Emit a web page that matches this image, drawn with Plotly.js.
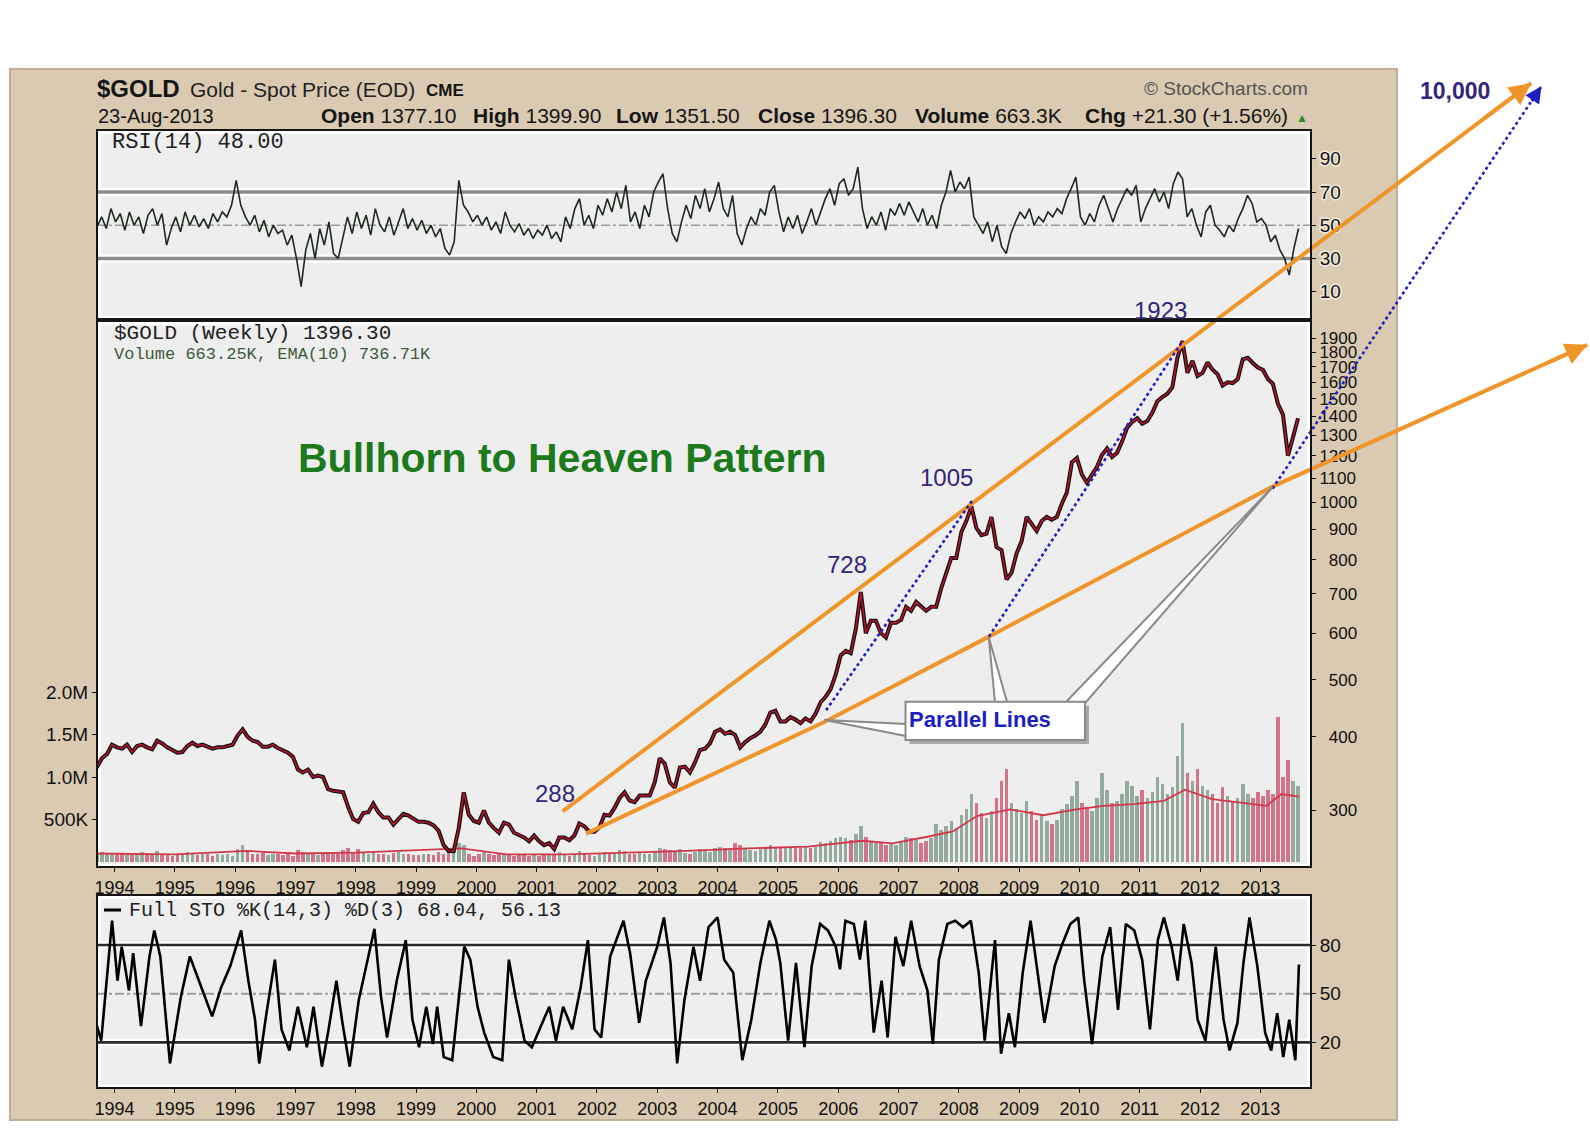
<!DOCTYPE html>
<html><head><meta charset="utf-8">
<script src="https://cdn.plot.ly/plotly-3.0.1.min.js"></script>
<style>
html,body{margin:0;padding:0;background:#fff;}
#chart{width:1590px;height:1128px;}
.xtick text,.ytick text{stroke:#f1eadc;stroke-width:3px;paint-order:stroke;stroke-linejoin:round;}
</style></head><body><div id="chart"></div><script>
// ================= DATA =================
const YEARS = [1994,1995,1996,1997,1998,1999,2000,2001,2002,2003,2004,2005,2006,2007,2008,2009,2010,2011,2012,2013];
const PRICE_START = 1993 + 8.5/12;   // first monthly point: Sep 1993
const PRICE = [
355,368,374,388,
384,382,388,377,386,388,384,381,394,390,384,380,
376,377,386,391,386,388,385,382,384,384,386,388,
402,412,400,394,392,385,385,388,383,380,376,370,
352,348,352,342,344,342,326,324,323,322,304,290,
287,297,298,308,298,292,292,284,290,296,294,290,
287,287,286,283,277,262,256,256,280,322,295,288,
286,300,286,280,275,286,284,275,273,270,266,272,
266,262,264,258,270,270,267,272,285,282,276,276,
281,295,294,303,315,322,312,310,318,318,318,335,
368,360,335,328,355,356,348,362,380,382,390,408,
412,405,408,403,384,392,398,402,408,420,440,443,
425,425,432,428,422,430,425,438,458,468,482,510,
550,560,555,610,705,600,630,630,600,590,625,625,
632,665,655,678,665,655,665,665,715,755,805,805,
890,930,985,905,880,885,945,840,830,740,760,820,
860,945,920,895,930,945,935,945,995,1040,1170,1190,
1115,1080,1115,1150,1205,1235,1195,1215,1270,1340,1370,1390,
1360,1375,1420,1485,1510,1530,1570,1760,1880,1660,1740,1640,
1660,1730,1680,1650,1580,1600,1595,1620,1750,1760,1725,1695,
1680,1620,1590,1470,1410,1200,1290,1390];
const VOLUME = [ // millions
0.10,0.12,0.09,0.11,
0.09,0.10,0.11,0.08,0.10,0.12,0.09,0.08,0.13,0.10,0.09,0.07,
0.08,0.10,0.12,0.09,0.08,0.10,0.09,0.07,0.09,0.08,0.10,0.07,
0.15,0.20,0.12,0.10,0.09,0.11,0.08,0.09,0.10,0.08,0.09,0.07,
0.14,0.12,0.10,0.09,0.08,0.10,0.12,0.09,0.10,0.14,0.16,0.12,
0.15,0.11,0.09,0.12,0.10,0.09,0.08,0.11,0.12,0.10,0.09,0.08,
0.08,0.09,0.10,0.08,0.12,0.10,0.12,0.14,0.22,0.20,0.10,0.07,
0.09,0.13,0.10,0.08,0.09,0.10,0.08,0.07,0.09,0.08,0.07,0.08,
0.07,0.08,0.09,0.10,0.12,0.08,0.07,0.08,0.13,0.09,0.08,0.07,
0.09,0.12,0.10,0.11,0.14,0.13,0.10,0.09,0.11,0.10,0.09,0.12,
0.16,0.15,0.14,0.12,0.15,0.11,0.10,0.12,0.15,0.14,0.12,0.16,
0.18,0.17,0.16,0.22,0.20,0.15,0.14,0.13,0.15,0.17,0.20,0.18,
0.17,0.16,0.18,0.17,0.16,0.19,0.17,0.18,0.24,0.22,0.25,0.28,
0.30,0.28,0.26,0.33,0.42,0.30,0.25,0.22,0.24,0.20,0.22,0.20,
0.24,0.30,0.28,0.26,0.22,0.25,0.28,0.45,0.38,0.42,0.48,0.40,
0.55,0.62,0.80,0.70,0.58,0.52,0.60,0.75,0.95,1.10,0.70,0.62,
0.58,0.72,0.60,0.50,0.55,0.48,0.45,0.50,0.62,0.68,0.78,0.95,
0.70,0.65,0.60,0.75,1.05,0.85,0.70,0.72,0.80,0.95,0.90,0.78,
0.85,0.75,0.82,1.00,0.92,0.80,0.88,1.25,1.64,1.05,0.95,1.10,
0.90,0.85,0.80,0.70,0.88,0.78,0.72,0.75,0.92,0.80,0.75,0.82,
0.78,0.85,0.80,1.71,1.00,1.20,0.95,0.90];
const VOL_EMA_T = [1993.71,1995.0,1996.2,1997.0,1998.0,1999.75,2000.5,2001.5,2002.5,2003.5,2004.5,2005.5,2006.4,2006.9,2007.5,2007.9,2008.3,2008.85,2009.4,2009.95,2010.4,2010.9,2011.4,2011.75,2012.2,2012.7,2013.1,2013.35,2013.64];
const VOL_EMA_V = [0.10,0.09,0.13,0.10,0.11,0.16,0.09,0.09,0.11,0.13,0.16,0.18,0.25,0.22,0.30,0.36,0.54,0.62,0.55,0.62,0.66,0.68,0.72,0.85,0.74,0.70,0.66,0.80,0.77];
const RSI_START = 1993.71, RSI_STEP = 1/13;   // one reading every 4 weeks
const RSI = [
49,55,48,60,52,57,47,58,50,55,45,56,60,
50,57,38,48,55,46,58,50,56,49,54,48,57,
52,58,55,62,77,62,55,50,56,46,53,43,50,
45,47,38,44,30,13,35,45,30,48,38,52,33,
30,42,55,45,58,48,56,44,60,50,46,55,44,
52,60,48,54,47,53,45,50,43,48,36,32,40,
77,62,58,52,56,50,55,47,52,45,58,50,46,
51,44,48,42,47,44,50,42,46,40,55,48,60,
66,50,56,48,62,56,66,58,70,60,74,52,58,
48,62,55,70,76,81,60,45,40,52,62,54,68,
60,72,58,66,76,60,55,68,45,38,48,55,50,
60,56,70,74,58,46,55,48,56,45,52,60,50,
58,66,72,62,75,78,68,72,85,60,48,55,50,
58,47,60,56,63,56,64,58,52,60,50,56,48,
62,70,83,70,76,72,79,55,50,45,52,40,50,
37,33,45,52,58,54,60,50,55,52,58,55,60,
57,66,72,79,55,50,57,52,62,68,60,52,60,
66,72,68,74,52,60,66,72,64,70,60,75,82,
78,55,60,50,43,58,62,50,47,43,50,46,54,
60,68,63,52,54,50,40,44,35,30,20,36,48];
const STO_T = [
1993.71,1993.78,1993.96,
1994.05,1994.12,1994.24,1994.31,1994.44,1994.58,1994.66,1994.76,1994.92,
1995.10,1995.25,1995.40,1995.50,1995.62,1995.77,1995.92,
1996.10,1996.22,1996.33,1996.40,1996.52,1996.66,1996.77,1996.90,
1997.04,1997.19,1997.30,1997.44,1997.55,1997.68,1997.78,1997.90,
1998.05,1998.20,1998.31,1998.42,1998.52,1998.68,1998.83,1998.94,
1999.05,1999.17,1999.28,1999.35,1999.46,1999.60,1999.80,1999.90,
2000.02,2000.13,2000.28,2000.43,2000.54,2000.65,2000.80,2000.92,
2001.07,2001.21,2001.32,2001.44,2001.59,2001.73,2001.85,2001.96,
2002.07,2002.22,2002.44,2002.55,2002.70,2002.81,
2003.00,2003.11,2003.22,2003.33,2003.45,2003.60,2003.71,2003.85,
2004.00,2004.11,2004.26,2004.41,2004.56,2004.71,2004.86,2004.97,
2005.04,2005.17,2005.30,2005.44,2005.56,2005.70,2005.83,2005.96,
2006.03,2006.12,2006.26,2006.36,2006.45,2006.59,2006.72,2006.82,2006.95,
2007.08,2007.21,2007.35,2007.48,2007.57,2007.67,2007.81,2007.94,
2008.07,2008.20,2008.33,2008.43,2008.60,2008.70,2008.83,2008.93,
2009.06,2009.19,2009.32,2009.42,2009.59,2009.72,2009.85,2009.98,
2010.08,2010.21,2010.38,2010.51,2010.64,2010.77,2010.91,
2011.04,2011.17,2011.30,2011.40,2011.53,2011.63,2011.73,2011.86,2011.96,
2012.09,2012.26,2012.39,2012.49,2012.62,2012.72,2012.82,2012.95,
2013.08,2013.18,2013.28,2013.38,2013.48,2013.58,2013.64];
const STO_V = [
30,21,95,
58,79,52,75,30,73,89,73,7,
48,73,58,48,36,54,67,
89,58,34,7,38,71,28,15,
42,17,42,5,28,58,32,5,
46,71,90,48,23,58,83,34,
17,42,19,42,11,9,79,71,
42,26,11,9,71,48,21,17,
30,42,21,42,28,54,83,28,
23,73,95,75,32,58,
79,97,69,7,46,79,58,91,
97,71,63,9,34,69,95,83,
69,21,69,17,67,93,89,79,
65,95,93,71,95,26,58,23,85,
67,95,67,52,19,71,93,95,
91,95,63,21,83,13,38,17,
63,95,58,32,67,81,93,97,
58,19,73,91,40,93,89,
71,28,83,97,79,58,93,69,34,
21,79,34,15,32,69,97,67,
26,15,38,11,34,9,68];
const PRICE_TICKS = [300,400,500,600,700,800,900,1000,1100,1200,1300,1400,1500,1600,1700,1800,1900];
const VOL_TICKS = [0.5,1,1.5,2];
const VOL_TICK_TEXT = ['500K','1.0M','1.5M','2.0M'];
const RSI_TICKS = [10,30,50,70,90];
const STO_TICKS = [20,50,80];
const PEAK_TEXT = ['288','728','1005','1923'];
const TARGET_TEXT = '10,000';

// ================= GEOMETRY / STYLE =================
const W = 1590, H = 1128;
const P = px => px / W;
const Q = py => 1 - py / H;
const XL = 97, XRt = 1311;
const XDOM = [P(XL), P(XRt)];
const XR = [1993.71, 2013.84];
const PAN = {rsi:[130,319], price:[321,867], sto:[895,1088]};
const ORANGE = '#f0952a', BLUE = '#1f1fbf', PURPLE = '#33267a';

// hand-drawn pattern lines (time, price) on a full-page overlay of the same scales
const TR_UP = {t:[2001.43,2017.49], p:[299,5153]};
const TR_LO = {t:[2001.82,2005.77,2008.50,2013.20,2018.42], p:[274,424,592,1064,1852]};
const TR_B1 = {t:[2005.80,2008.24], p:[444,1014]};
const TR_B2 = {t:[2008.50,2011.69], p:[592,1867]};
const TR_B3 = {t:[2013.20,2017.66], p:[1055,5091]};
const PEAK_T = [2001.30,2006.14,2007.79,2011.35];
const PEAK_P = [321,784,1102,2120];

const priceT = PRICE.map((_, i) => PRICE_START + i / 12);
const rsiT = RSI.map((_, i) => RSI_START + i * RSI_STEP);
const volColor = VOLUME.map((v, i) => (i > 0 && PRICE[i] < PRICE[i-1]) ? 'rgba(205,95,120,0.85)' : 'rgba(130,158,142,0.85)');

const traces = [
  {x: rsiT, y: RSI, xaxis:'x', yaxis:'y', type:'scatter', mode:'lines', line:{color:'#1d2a1d', width:1.6}, hoverinfo:'skip'},
  {x: priceT, y: VOLUME, xaxis:'x2', yaxis:'y2', type:'bar', width:0.058, marker:{color: volColor, line:{width:0}}, hoverinfo:'skip'},
  {x: VOL_EMA_T, y: VOL_EMA_V, xaxis:'x2', yaxis:'y2', type:'scatter', mode:'lines', line:{color:'#d3384a', width:1.8}, hoverinfo:'skip'},
  {x: priceT, y: PRICE, xaxis:'x2', yaxis:'y3', type:'scatter', mode:'lines', line:{color:'#101010', width:4}, hoverinfo:'skip'},
  {x: priceT, y: PRICE, xaxis:'x2', yaxis:'y3', type:'scatter', mode:'lines', line:{color:'#b3122b', width:1.6}, hoverinfo:'skip'},
  {x: STO_T, y: STO_V, xaxis:'x3', yaxis:'y4', type:'scatter', mode:'lines', line:{color:'#000', width:2.6}, hoverinfo:'skip'},
];
[TR_UP, TR_LO].forEach(tr => traces.push({x:tr.t, y:tr.p, xaxis:'x4', yaxis:'y5', type:'scatter', mode:'lines', line:{color:ORANGE, width:4}, hoverinfo:'skip'}));
[TR_B1, TR_B2, TR_B3].forEach(tr => traces.push({x:tr.t, y:tr.p, xaxis:'x4', yaxis:'y5', type:'scatter', mode:'lines', line:{color:BLUE, width:2.6, dash:'dot'}, hoverinfo:'skip'}));

// ---------- shapes ----------
const shapes = [];
shapes.push({type:'rect', xref:'paper', yref:'paper', x0:P(10), x1:P(1397), y0:Q(1120), y1:Q(69), fillcolor:'#d9cab1', line:{color:'#bcae97', width:2}, layer:'below'});
Object.values(PAN).forEach(([top, bot]) => {
  shapes.push({type:'rect', xref:'paper', yref:'paper', x0:P(XL), x1:P(XRt), y0:Q(bot), y1:Q(top), fillcolor:'#ffffff', line:{width:0}, layer:'below'});
  shapes.push({type:'rect', xref:'paper', yref:'paper', x0:P(XL+4), x1:P(XRt-4), y0:Q(bot-3), y1:Q(top+4), fillcolor:'#eeeeee', line:{width:0}, layer:'below'});
});
function level(xa, ya, v, color, width, dash, halo) {
  if (halo) shapes.push({type:'line', xref:xa, yref:ya, x0:XR[0], x1:XR[1], y0:v, y1:v, line:{color:'#ffffff', width:halo}, layer:'below'});
  shapes.push({type:'line', xref:xa, yref:ya, x0:XR[0], x1:XR[1], y0:v, y1:v, line:{color:color, width:width, dash:dash}, layer:'below'});
}
level('x','y',70,'#8c8c8c',3.5,'solid',8);
level('x','y',30,'#8c8c8c',3.5,'solid',8);
level('x','y',50,'#9a9a9a',1.6,'dashdot',0);
level('x3','y4',80,'#2a2a2a',2.6,'solid',7);
level('x3','y4',20,'#2a2a2a',2.6,'solid',7);
level('x3','y4',50,'#9a9a9a',2,'dashdot',0);
Object.values(PAN).forEach(([top, bot]) => {
  shapes.push({type:'rect', xref:'paper', yref:'paper', x0:P(XL), x1:P(XRt), y0:Q(bot), y1:Q(top), fillcolor:'rgba(0,0,0,0)', line:{color:'#151515', width:2}, layer:'above'});
});
// STO legend swatch
shapes.push({type:'line', xref:'paper', yref:'paper', x0:P(104), x1:P(121), y0:Q(910), y1:Q(910), line:{color:'#000', width:3}, layer:'above'});
// "Parallel Lines" callout
function poly(pts){ return 'M' + pts.map(p => P(p[0]).toFixed(5) + ',' + Q(p[1]).toFixed(5)).join(' L') + ' Z'; }
[[[824.4,720],[906,724],[906,736]], [[988.7,637],[995,702],[1007,702]], [[1272.6,487],[1066,702],[1080,709]]].forEach(t => {
  shapes.push({type:'path', xref:'paper', yref:'paper', path:poly(t), fillcolor:'#ffffff', line:{color:'#8a8a8a', width:2}, layer:'above'});
});
shapes.push({type:'rect', xref:'paper', yref:'paper', x0:P(909.5), x1:P(1089), y0:Q(744), y1:Q(705.7), fillcolor:'#a8a8a8', line:{width:0}, layer:'above'});
shapes.push({type:'rect', xref:'paper', yref:'paper', x0:P(905.5), x1:P(1085), y0:Q(740), y1:Q(701.7), fillcolor:'#ffffff', line:{color:'#8a8a8a', width:2}, layer:'above'});

// ---------- annotations ----------
const ann = [];
function txt(text, px, py, size, opts) {
  opts = opts || {};
  ann.push({text:text, xref:'paper', yref:'paper', x:P(px), y:Q(py), xanchor:opts.xa || 'left', yanchor:'middle', showarrow:false,
    font:{family:opts.family || 'Liberation Sans, Arial, sans-serif', size:size, color:opts.color || '#151515'}});
}
txt('<b>$GOLD</b>', 95, 89, 24);
txt('Gold - Spot Price (EOD)', 187.6, 90, 21, {color:'#222'});
txt('<b>CME</b>', 424, 91, 17);
txt('© StockCharts.com', 1310, 89, 19, {xa:'right', color:'#555'});
txt('23-Aug-2013', 96, 116, 20);
[['Open','1377.10',319.4],['High','1399.90',470.5],['Low','1351.50',613.5],['Close','1396.30',756.4],['Volume','663.3K',912.6],['Chg','+21.30 (+1.56%)',1082.8]]
  .forEach(h => txt('<b>' + h[0] + '</b> ' + h[1], h[2], 116, 21));
txt('▲', 1310, 118, 12, {xa:'right', color:'#2a8a2a'});
txt('RSI(14) 48.00', 110, 143, 22, {family:'Liberation Mono, monospace', color:'#222'});
txt('$GOLD (Weekly) 1396.30', 111.5, 333, 21, {family:'Liberation Mono, monospace', color:'#222'});
txt('Volume 663.25K, EMA(10) 736.71K', 111.5, 355, 17, {family:'Liberation Mono, monospace', color:'#3c5a3c'});
txt('Full STO %K(14,3) %D(3) 68.04, 56.13', 127, 910, 20, {family:'Liberation Mono, monospace', color:'#222'});
txt('<b>Bullhorn to Heaven Pattern</b>', 562.8, 458.3, 41, {xa:'center', color:'#1c7a1c'});
txt('<b>Parallel Lines</b>', 907, 719, 22, {color:'#1d1dc8'});
PEAK_TEXT.forEach((t, i) => ann.push({text:t, xref:'x4', yref:'y5', x:PEAK_T[i], y:Math.log10(PEAK_P[i]), showarrow:false, xanchor:'center', yanchor:'middle',
  font:{family:'Liberation Sans, Arial, sans-serif', size:24, color:PURPLE}}));
ann.push({text:'<b>' + TARGET_TEXT + '</b>', xref:'x4', yref:'y5', x:2016.23, y:Math.log10(4990), showarrow:false, xanchor:'center', yanchor:'middle',
  font:{family:'Liberation Sans, Arial, sans-serif', size:23, color:PURPLE}});
function head(tr, color, width, f) {
  const n = tr.t.length, t0 = tr.t[n-2], t1 = tr.t[n-1], l0 = Math.log10(tr.p[n-2]), l1 = Math.log10(tr.p[n-1]);
  ann.push({xref:'x4', yref:'y5', axref:'x4', ayref:'y5', x:t1, y:l1, ax:t1 - (t1 - t0) * f, ay:l1 - (l1 - l0) * f, text:'', showarrow:true,
    arrowhead:2, arrowsize:1.1, arrowwidth:width, arrowcolor:color, standoff:0});
}
head(TR_UP, ORANGE, 4, 0.05);
head(TR_LO, ORANGE, 4, 0.12);
head(TR_B3, BLUE, 3, 0.04);

// ---------- axes ----------
const tickFont = {family:'Liberation Sans, Arial, sans-serif', size:19, color:'#111'};
const base = {showgrid:false, zeroline:false, showline:false, fixedrange:true};
const layout = {
  width:W, height:H, margin:{l:0, r:0, t:0, b:0}, paper_bgcolor:'#ffffff', plot_bgcolor:'rgba(0,0,0,0)', showlegend:false,
  font:{family:'Liberation Sans, Arial, sans-serif'}, bargap:0,
  xaxis: Object.assign({}, base, {domain:XDOM, range:XR, anchor:'y', showticklabels:false, ticks:''}),
  yaxis: Object.assign({}, base, {domain:[Q(PAN.rsi[1]), Q(PAN.rsi[0])], range:[-6.5,107.35], side:'right', anchor:'x',
    tickvals:RSI_TICKS, ticks:'outside', ticklen:4, tickcolor:'#111', tickfont:tickFont}),
  xaxis2: Object.assign({}, base, {domain:XDOM, range:XR, anchor:'y2', tickvals:YEARS, ticktext:YEARS.map(String),
    ticks:'outside', ticklen:4, tickcolor:'#111', tickfont:Object.assign({}, tickFont, {size:18})}),
  yaxis2: Object.assign({}, base, {domain:[Q(PAN.price[1]), Q(PAN.price[0])], range:[-0.0588,6.365], side:'left', anchor:'x2',
    tickvals:VOL_TICKS, ticktext:VOL_TICK_TEXT, ticks:'outside', ticklen:4, tickcolor:'#111', tickfont:tickFont}),
  yaxis3: Object.assign({}, base, {overlaying:'y2', type:'log', range:[2.3812,3.3081], side:'right', anchor:'x2',
    tickvals:PRICE_TICKS, ticktext:PRICE_TICKS.map(v => v < 1000 ? '\u00a0\u00a0' + v : String(v)),
    ticks:'outside', ticklen:4, tickcolor:'#111', tickfont:Object.assign({}, tickFont, {size:17})}),
  xaxis3: Object.assign({}, base, {domain:XDOM, range:XR, anchor:'y4', tickvals:YEARS, ticktext:YEARS.map(String),
    ticks:'outside', ticklen:4, tickcolor:'#111', tickfont:Object.assign({}, tickFont, {size:18})}),
  yaxis4: Object.assign({}, base, {domain:[Q(PAN.sto[1]), Q(PAN.sto[0])], range:[-8.14,110.85], side:'right', anchor:'x3',
    tickvals:STO_TICKS, ticks:'outside', ticklen:4, tickcolor:'#111', tickfont:tickFont}),
  xaxis4: Object.assign({}, base, {domain:[0,1], range:[1992.102,2018.465], anchor:'y5', visible:false}),
  yaxis5: Object.assign({}, base, {domain:[0,1], type:'log', range:[1.93803,3.85314], anchor:'x4', visible:false}),
  shapes:shapes, annotations:ann
};
Plotly.newPlot('chart', traces, layout, {staticPlot:true, displayModeBar:false});
</script></body></html>
